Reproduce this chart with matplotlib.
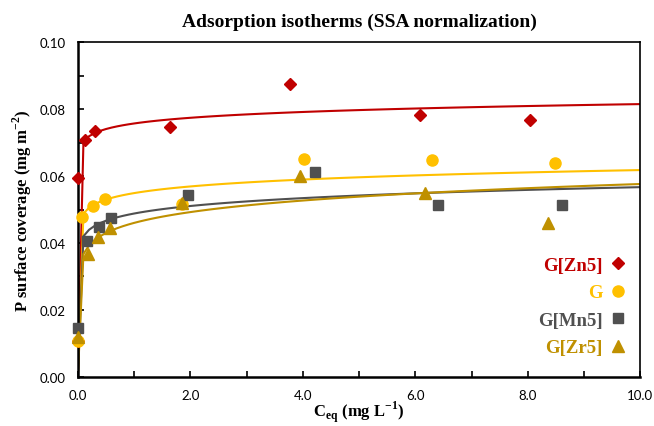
import numpy as np
import matplotlib
matplotlib.use("Agg")
import matplotlib.pyplot as plt

plt.rcParams["mathtext.fontset"] = "custom"
plt.rcParams["mathtext.rm"] = "Liberation Serif:bold"
plt.rcParams["mathtext.bf"] = "Liberation Serif:bold"

# measured points (C_eq in mg/L, coverage in mg/m2)
zn_x = [0.0, 0.01, 0.12, 0.30, 1.64, 3.77, 6.09, 8.04]
zn_y = [0.0108, 0.0595, 0.0707, 0.0734, 0.0746, 0.0875, 0.0782, 0.0767]
g_x = [0.0, 0.07, 0.27, 0.48, 1.85, 4.02, 6.30, 8.49]
g_y = [0.0107, 0.0478, 0.0510, 0.0531, 0.0516, 0.0650, 0.0648, 0.0639]
mn_x = [0.0, 0.16, 0.37, 0.59, 1.95, 4.22, 6.41, 8.60]
mn_y = [0.0146, 0.0406, 0.0448, 0.0475, 0.0542, 0.0612, 0.0513, 0.0513]
zr_x = [0.0, 0.18, 0.36, 0.57, 1.85, 3.95, 6.17, 8.36]
zr_y = [0.0120, 0.0367, 0.0418, 0.0445, 0.0518, 0.0600, 0.0549, 0.0460]

# Freundlich fit parameters (K, 1/n)
zn_fit = (0.0757, 0.032)
g_fit = (0.0549, 0.0513)
mn_fit = (0.0488, 0.065)
zr_fit = (0.0460, 0.0978)

labels = ["G[Zn5]", "G", "G[Mn5]", "G[Zr5]"]
colors = ["#C00000", "#FFC000", "#505050", "#BF9000"]
markers = ["D", "o", "s", "^"]
msizes = [6.5, 8, 7.5, 8]

fig = plt.figure(figsize=(6.54, 4.27), dpi=100)
ax = fig.add_axes([0.119, 0.115, 0.860, 0.784])

c_grid = np.round(np.arange(0, 10.01, 0.1), 2)
series = [(zn_x, zn_y, zn_fit), (g_x, g_y, g_fit), (mn_x, mn_y, mn_fit), (zr_x, zr_y, zr_fit)]
handles = []
for (xs, ys, (k, ninv)), lab, col, mk, ms in zip(series, labels, colors, markers, msizes):
    ax.plot(c_grid, k * c_grid ** ninv, color=col, lw=1.5, zorder=2)
    h, = ax.plot(xs, ys, ls="none", marker=mk, ms=ms, color=col, mec=col,
                 label=lab, zorder=3, clip_on=False)
    handles.append(h)

ax.set_xlim(0, 10)
ax.set_ylim(0, 0.10)
ax.set_xticks(np.arange(0, 10.01, 1.0))
ax.set_xticklabels([f"{v:.1f}" if i % 2 == 0 else "" for i, v in enumerate(np.arange(0, 10.01, 1.0))])
ax.set_yticks(np.arange(0, 0.101, 0.01))
ax.set_yticklabels([f"{v:.2f}" if i % 2 == 0 else "" for i, v in enumerate(np.arange(0, 0.101, 0.01))])
ax.tick_params(direction="in", length=4, width=1.2, labelsize=9.5, pad=9)
for lab in ax.get_xticklabels() + ax.get_yticklabels():
    lab.set_family("Lato")
for side in ["left", "bottom"]:
    ax.spines[side].set_linewidth(1.8)
for side in ["top", "right"]:
    ax.spines[side].set_linewidth(1.2)

ax.set_title("Adsorption isotherms (SSA normalization)", fontfamily="Liberation Serif",
             fontweight="bold", fontsize=14, pad=12)
ax.set_xlabel(r"C$_{\mathbf{eq}}$ (mg L$^{\mathbf{-1}}$)", fontfamily="Liberation Serif",
              fontweight="bold", fontsize=12, labelpad=-2)
ax.set_ylabel(r"P surface coverage (mg m$^{\mathbf{-2}}$)", fontfamily="Liberation Serif",
              fontweight="bold", fontsize=12, labelpad=4)

leg = ax.legend(handles=handles, loc="center right", bbox_to_anchor=(1.0, 0.21),
                frameon=False, markerfirst=False, handlelength=0.6, handletextpad=0.5,
                labelspacing=0.55, prop={"family": "Liberation Serif", "weight": "bold", "size": 13.5},
                labelcolor="markerfacecolor")

fig.savefig("out.png", dpi=100)
